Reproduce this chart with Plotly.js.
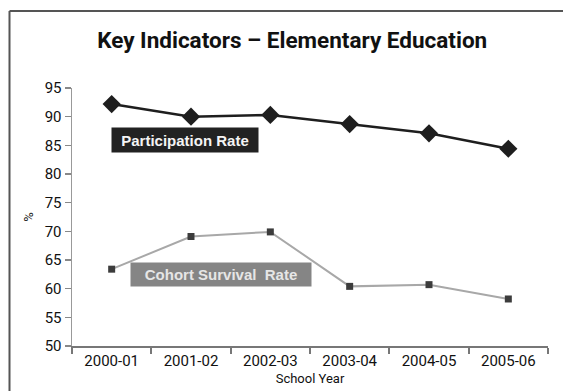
<!DOCTYPE html>
<html>
<head>
<meta charset="utf-8">
<script src="https://cdn.plot.ly/plotly-3.0.1.min.js"></script>
<style>
  html, body { margin: 0; padding: 0; background: #fff; overflow: hidden; }
  #chart { width: 563px; height: 391px; overflow: hidden; }
</style>
</head>
<body>
<div id="chart"></div>
<script>
// School years on the horizontal axis
const schoolYears = ['2000-01', '2001-02', '2002-03', '2003-04', '2004-05', '2005-06'];
// Elementary participation rate (%)
const participationRate = [92.2, 90.0, 90.3, 88.7, 87.1, 84.4];
// Elementary cohort survival rate (%)
const cohortSurvivalRate = [63.4, 69.1, 69.9, 60.4, 60.7, 58.2];
const yTicks = [50, 55, 60, 65, 70, 75, 80, 85, 90, 95];

const narrow = 'Roboto, "Liberation Sans Narrow", sans-serif';
const labelFont = '"Liberation Sans", Arial, sans-serif';

const traces = [
  {
    x: schoolYears, y: participationRate, type: 'scatter', mode: 'lines+markers',
    line: { color: '#1e1e1e', width: 2.5 },
    marker: { symbol: 'diamond', size: 14, color: '#1e1e1e' },
    hoverinfo: 'skip'
  },
  {
    x: schoolYears, y: cohortSurvivalRate, type: 'scatter', mode: 'lines+markers',
    line: { color: '#a8a8a8', width: 2 },
    marker: { symbol: 'square', size: 7, color: '#3c3c3c' },
    hoverinfo: 'skip'
  }
];

const layout = {
  width: 563, height: 391,
  margin: { l: 72, r: 15, t: 88, b: 45 },
  paper_bgcolor: '#fff', plot_bgcolor: '#fff',
  showlegend: false,
  font: { family: narrow, color: '#111' },
  title: {
    text: '<b>Key Indicators – Elementary Education</b>',
    font: { family: narrow, size: 22.5, color: '#111' },
    xref: 'container', x: 0.519, xanchor: 'center',
    yref: 'container', y: 0.897, yanchor: 'middle'
  },
  xaxis: {
    type: 'category',
    tickson: 'boundaries',
    ticks: 'outside', ticklen: 6, tickwidth: 2, tickcolor: '#777',
    showline: true, linecolor: '#777', linewidth: 2,
    showgrid: false, zeroline: false,
    tickfont: { family: narrow, size: 15, color: '#111' },
    title: { text: 'School Year', font: { family: narrow, size: 13, color: '#111' }, standoff: 5 },
    range: [-0.5, 5.5], fixedrange: true
  },
  yaxis: {
    range: [50, 95],
    tickvals: yTicks,
    ticks: 'outside', ticklen: 6, tickwidth: 1.5, tickcolor: '#888',
    showline: true, linecolor: '#999', linewidth: 1.5,
    showgrid: false, zeroline: false,
    tickfont: { family: narrow, size: 15, color: '#111' },
    title: { text: '%', font: { family: narrow, size: 13, color: '#111' }, standoff: 8 },
    fixedrange: true
  },
  annotations: [
    {
      text: '<b>Participation Rate</b>',
      xref: 'paper', x: 0.237, xanchor: 'center', yref: 'y', y: 86.0, yanchor: 'middle',
      showarrow: false, width: 144, height: 22,
      bgcolor: '#222', font: { family: labelFont, size: 15, color: '#f4f4f4' }
    },
    {
      text: '<b>Cohort Survival  Rate</b>',
      xref: 'paper', x: 0.314, xanchor: 'center', yref: 'y', y: 62.4, yanchor: 'middle',
      showarrow: false, width: 178, height: 21,
      bgcolor: '#858585', font: { family: labelFont, size: 15, color: '#e6e6e6' }
    }
  ],
  shapes: [
    // frame edges: top and left sides of the outer border
    {
      type: 'line', xref: 'paper', yref: 'paper', layer: 'above',
      x0: -0.1313, x1: 1.1, y0: 1.2984, y1: 1.2984,
      line: { color: '#555', width: 2 }
    },
    {
      type: 'line', xref: 'paper', yref: 'paper', layer: 'above',
      x0: -0.1313, x1: -0.1313, y0: -0.3, y1: 1.2984,
      line: { color: '#555', width: 2 }
    }
  ]
};

Plotly.newPlot('chart', traces, layout, { displayModeBar: false, staticPlot: true });
</script>
</body>
</html>
